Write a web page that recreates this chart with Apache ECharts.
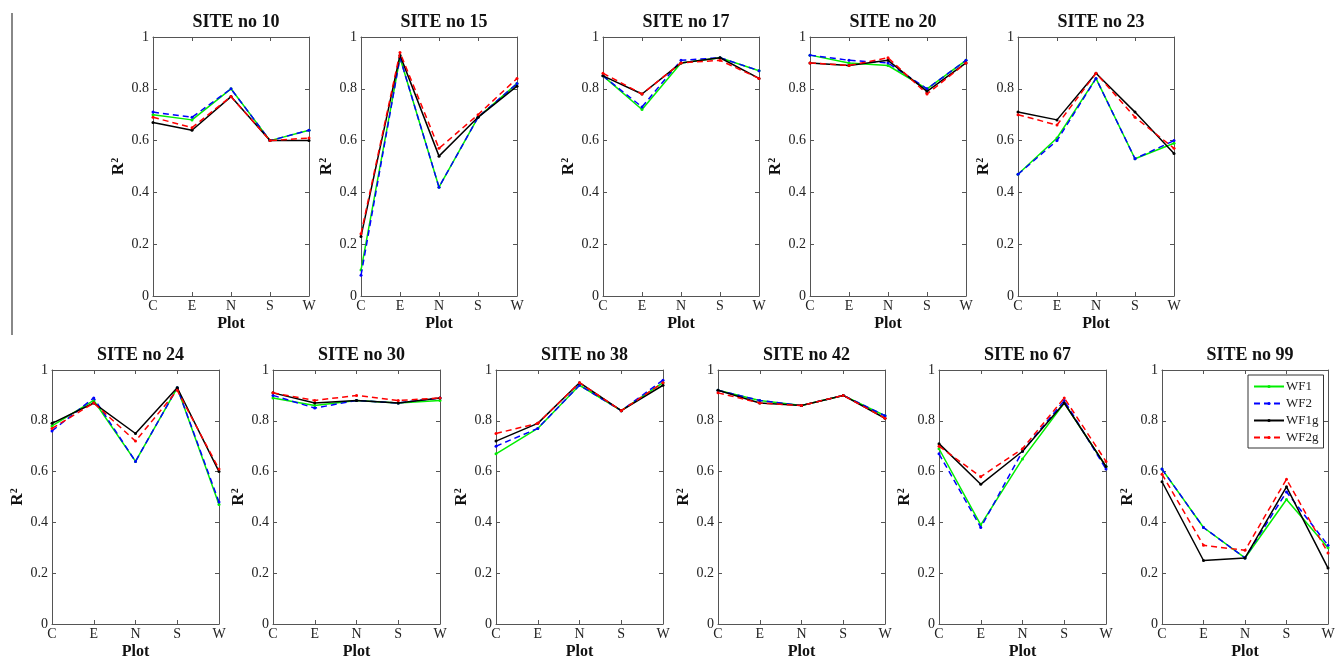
<!DOCTYPE html>
<html>
<head>
<meta charset="utf-8">
<script src="https://cdn.jsdelivr.net/npm/echarts@6/dist/echarts.min.js"></script>
<style>
html,body{margin:0;padding:0;background:#fff;}
#chart{width:1341px;height:661px;}
</style>
</head>
<body>
<div id="chart"></div>
<script>
// ---- data ----
const plots = ['C', 'E', 'N', 'S', 'W'];
const sites = ['SITE no 10', 'SITE no 15', 'SITE no 17', 'SITE no 20', 'SITE no 23',
               'SITE no 24', 'SITE no 30', 'SITE no 38', 'SITE no 42', 'SITE no 67', 'SITE no 99'];
const yTicks = [0, 0.2, 0.4, 0.6, 0.8, 1];
const seriesNames = ['WF1', 'WF2', 'WF1g', 'WF2g'];

// one row per site, values at C, E, N, S, W
const WF1 = [
  [0.70, 0.68, 0.80, 0.60, 0.64],
  [0.10, 0.92, 0.42, 0.69, 0.82],
  [0.85, 0.72, 0.90, 0.92, 0.87],
  [0.93, 0.90, 0.89, 0.80, 0.91],
  [0.47, 0.61, 0.84, 0.53, 0.59],
  [0.78, 0.88, 0.64, 0.93, 0.47],
  [0.89, 0.86, 0.88, 0.87, 0.88],
  [0.67, 0.77, 0.94, 0.84, 0.95],
  [0.92, 0.88, 0.86, 0.90, 0.82],
  [0.69, 0.39, 0.65, 0.87, 0.62],
  [0.61, 0.38, 0.26, 0.49, 0.30]
];
const WF2 = [
  [0.71, 0.69, 0.80, 0.60, 0.64],
  [0.08, 0.92, 0.42, 0.69, 0.82],
  [0.85, 0.73, 0.91, 0.92, 0.87],
  [0.93, 0.91, 0.90, 0.80, 0.91],
  [0.47, 0.60, 0.84, 0.53, 0.60],
  [0.76, 0.89, 0.64, 0.93, 0.48],
  [0.90, 0.85, 0.88, 0.87, 0.89],
  [0.70, 0.77, 0.94, 0.84, 0.96],
  [0.92, 0.88, 0.86, 0.90, 0.82],
  [0.67, 0.38, 0.68, 0.88, 0.61],
  [0.61, 0.38, 0.26, 0.52, 0.31]
];
const WF1g = [
  [0.67, 0.64, 0.77, 0.60, 0.60],
  [0.23, 0.93, 0.54, 0.69, 0.81],
  [0.85, 0.78, 0.90, 0.92, 0.84],
  [0.90, 0.89, 0.91, 0.79, 0.90],
  [0.71, 0.68, 0.86, 0.71, 0.55],
  [0.79, 0.87, 0.75, 0.93, 0.60],
  [0.91, 0.87, 0.88, 0.87, 0.89],
  [0.72, 0.79, 0.95, 0.84, 0.94],
  [0.92, 0.87, 0.86, 0.90, 0.81],
  [0.71, 0.55, 0.68, 0.87, 0.62],
  [0.56, 0.25, 0.26, 0.54, 0.22]
];
const WF2g = [
  [0.69, 0.65, 0.77, 0.60, 0.61],
  [0.24, 0.94, 0.57, 0.70, 0.84],
  [0.86, 0.78, 0.90, 0.91, 0.84],
  [0.90, 0.89, 0.92, 0.78, 0.90],
  [0.70, 0.66, 0.86, 0.69, 0.57],
  [0.77, 0.87, 0.72, 0.92, 0.61],
  [0.91, 0.88, 0.90, 0.88, 0.89],
  [0.75, 0.79, 0.95, 0.84, 0.95],
  [0.91, 0.87, 0.86, 0.90, 0.81],
  [0.70, 0.58, 0.69, 0.89, 0.64],
  [0.59, 0.31, 0.29, 0.57, 0.28]
];

// ---- layout & style ----
const seriesData = [WF1, WF2, WF1g, WF2g];
const colors = ['#00ee00', '#0000ff', '#000000', '#ff0000'];
const dashes = ['solid', [6, 4], 'solid', [6, 4]];
const layout = [
  {left: 153, top: 37, width: 156, height: 259},
  {left: 361, top: 37, width: 156, height: 259},
  {left: 603, top: 37, width: 156, height: 259},
  {left: 810, top: 37, width: 156, height: 259},
  {left: 1018, top: 37, width: 156, height: 259},
  {left: 52, top: 370, width: 167, height: 259},
  {left: 273, top: 370, width: 167, height: 259},
  {left: 496, top: 370, width: 167, height: 259},
  {left: 718, top: 370, width: 167, height: 259},
  {left: 939, top: 370, width: 167, height: 259},
  {left: 1162, top: 370, width: 166, height: 259}
];
const FONT = '"Liberation Serif", "DejaVu Serif", serif';
const axisCol = '#555';

const grids = [], xAxes = [], yAxes = [], titles = [], series = [];
layout.forEach((g, i) => {
  grids.push({left: g.left, top: g.top, width: g.width, height: g.height, containLabel: false});
  titles.push({
    text: sites[i],
    left: g.left + g.width / 2, top: g.top - 29, textAlign: 'center',
    textStyle: {fontFamily: FONT, fontWeight: 'bold', fontSize: 18, color: '#111'}
  });
  // bottom x
  xAxes.push({
    gridIndex: i, type: 'category', data: plots, boundaryGap: false, position: 'bottom',
    axisLine: {show: true, onZero: false, lineStyle: {color: axisCol, width: 1}},
    axisTick: {show: true, inside: true, length: 4, lineStyle: {color: axisCol}},
    axisLabel: {fontFamily: FONT, fontSize: 14, color: '#222', margin: 3},
    splitLine: {show: false},
    name: 'Plot', nameLocation: 'middle', nameGap: 20,
    nameTextStyle: {fontFamily: FONT, fontWeight: 'bold', fontSize: 16, color: '#111'}
  });
  // top mirror x
  xAxes.push({
    gridIndex: i, type: 'category', data: plots, boundaryGap: false, position: 'top',
    axisLine: {show: true, onZero: false, lineStyle: {color: axisCol, width: 1}},
    axisTick: {show: true, inside: true, length: 4, lineStyle: {color: axisCol}},
    axisLabel: {show: false}, splitLine: {show: false}
  });
  // left y
  yAxes.push({
    gridIndex: i, type: 'value', min: 0, max: 1, interval: 0.2, position: 'left',
    axisLine: {show: true, onZero: false, lineStyle: {color: axisCol, width: 1}},
    axisTick: {show: true, inside: true, length: 4, lineStyle: {color: axisCol}},
    axisLabel: {fontFamily: FONT, fontSize: 14, color: '#222', margin: 4,
      formatter: v => { const t = yTicks.find(k => Math.abs(k - v) < 1e-9); return t === undefined ? '' : String(t); }},
    splitLine: {show: false},
    name: 'R{s|2}', nameLocation: 'middle', nameGap: 22, nameRotate: 90,
    nameTextStyle: {fontFamily: FONT, fontWeight: 'bold', fontSize: 17, color: '#111',
      rich: {s: {fontFamily: FONT, fontWeight: 'bold', fontSize: 10, color: '#111', verticalAlign: 'top', padding: [0, 0, 8, 0]}}}
  });
  // right mirror y
  yAxes.push({
    gridIndex: i, type: 'value', min: 0, max: 1, interval: 0.2, position: 'right',
    axisLine: {show: true, onZero: false, lineStyle: {color: axisCol, width: 1}},
    axisTick: {show: true, inside: true, length: 4, lineStyle: {color: axisCol}},
    axisLabel: {show: false}, splitLine: {show: false}
  });
  seriesNames.forEach((name, k) => {
    series.push({
      name: name, type: 'line',
      xAxisIndex: i * 2, yAxisIndex: i * 2,
      data: seriesData[k][i],
      symbol: 'circle', symbolSize: 3, showSymbol: true,
      itemStyle: {color: colors[k]},
      lineStyle: {color: colors[k], width: 1.5, type: dashes[k]},
      emphasis: {disabled: true},
      z: 2 + k
    });
  });
});

const chart = echarts.init(document.getElementById('chart'), null, {renderer: 'canvas'});
chart.setOption({
  animation: false,
  backgroundColor: '#fff',
  title: titles,
  grid: grids,
  xAxis: xAxes,
  yAxis: yAxes,
  legend: {
    data: seriesNames,
    orient: 'vertical',
    left: 1248, top: 375,
    itemWidth: 30, itemHeight: 4, itemGap: 2,
    padding: [4, 5, 3, 5],
    borderColor: '#333', borderWidth: 1, borderRadius: 0,
    backgroundColor: '#fff',
    textStyle: {fontFamily: FONT, fontSize: 13, lineHeight: 15, color: '#222', padding: [0, 0, 0, -3]}
  },
  graphic: [{
    type: 'line', shape: {x1: 12, y1: 13, x2: 12, y2: 335},
    style: {stroke: '#888', lineWidth: 2}
  }],
  series: series
});
</script>
</body>
</html>
